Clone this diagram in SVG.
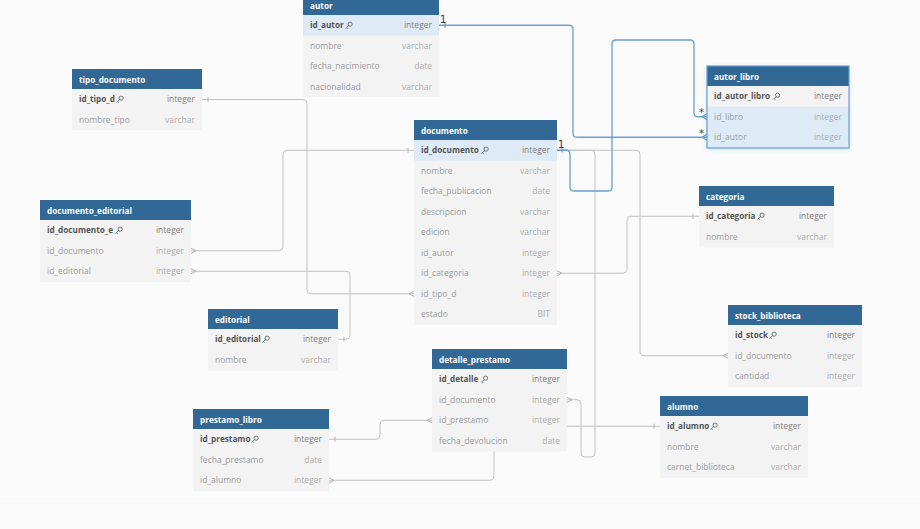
<svg xmlns="http://www.w3.org/2000/svg" xmlns:xlink="http://www.w3.org/1999/xlink" width="920" height="529" viewBox="0 0 920 529">
<style>
.hd{fill:#316896}
.bd{fill:#f3f3f3}
.hl{fill:#deebf6}
.ht{font-family:"Open Sans","Noto Sans",sans-serif;font-size:8.2px;font-weight:bold;fill:#ffffff}
.pk{font-family:"Open Sans","Noto Sans",sans-serif;font-size:8.2px;font-weight:bold;fill:#555555}
.pkt{font-family:"Open Sans","Noto Sans",sans-serif;font-size:8.5px;fill:#808080;text-anchor:end}
.f{font-family:"Open Sans","Noto Sans",sans-serif;font-size:8.5px;fill:#9c9c9c}
.ft{font-family:"Open Sans","Noto Sans",sans-serif;font-size:8.5px;fill:#aeaeae;text-anchor:end}
.cg{fill:none;stroke:#c2c2c2;stroke-width:1}
.cb{fill:none;stroke:#6a9fd0;stroke-width:1.3}
.mk{fill:none;stroke:#b5b5b5;stroke-width:1}
.mb{fill:none;stroke:#6a9fd0;stroke-width:1.2}
.lb{font-family:"DejaVu Sans",sans-serif;font-size:10px;fill:#333333}
</style>
<defs>
<symbol id="key" viewBox="0 0 8 8">
<circle cx="5.1" cy="2.9" r="2.1" fill="none" stroke="#666" stroke-width="0.9"/>
<path d="M3.6,4.4 L0.7,7.3 M1.5,6.5 L2.6,7.6" fill="none" stroke="#666" stroke-width="0.9"/>
</symbol>
<filter id="sh" x="-10%" y="-10%" width="120%" height="125%">
<feDropShadow dx="0" dy="1" stdDeviation="2" flood-color="#5b8fc4" flood-opacity="0.35"/>
</filter>
</defs>
<rect x="0" y="0" width="920" height="529" fill="#fbfbfb"/>
<line x1="0" y1="503" x2="920" y2="503" stroke="#f2f2f2" stroke-width="1"/>

<g id="connectors">
<path class="cg" d="M202,99.5 H303 Q307,99.5 307,103.5 V289.75 Q307,293.75 311,293.75 H414"/>
<path class="cg" d="M191,250.75 H279 Q283,250.75 283,246.75 V154.25 Q283,150.25 287,150.25 H414"/>
<path class="cg" d="M191,271.25 H346 Q350,271.25 350,275.25 V335.25 Q350,339.25 346,339.25 H338"/>
<path class="cg" d="M557,273.25 H623 Q627,273.25 627,269.25 V220.25 Q627,216.25 631,216.25 H699"/>
<path class="cg" d="M557,150.25 H636 Q640,150.25 640,154.25 V351.75 Q640,355.75 644,355.75 H728"/>
<path class="cg" d="M557,150.25 H591 Q595,150.25 595,154.25 V453 Q595,457 591,457 H585 Q581,457 581,453 V403.75 Q581,399.75 577,399.75 H567"/>
<path class="cg" d="M329,439.25 H376 Q380,439.25 380,435.25 V424.25 Q380,420.25 384,420.25 H432"/>
<path class="cg" d="M329,480.25 H490 Q494,480.25 494,476.25 V430.25 Q494,426.25 498,426.25 H660"/>
<path class="cb" d="M439,25.25 H569 Q573,25.25 573,29.25 V133.25 Q573,137.25 577,137.25 H707"/>
<path class="cb" d="M557,150.25 H566 Q570,150.25 570,154.25 V187 Q570,191 574,191 H608 Q612,191 612,187 V44 Q612,40 616,40 H690 Q694,40 694,44 V112.75 Q694,116.75 698,116.75 H707"/>
<path class="mk" d="M208,97 V102 M408,147.75 V152.75 M344,336.75 V341.75 M693,213.75 V218.75 M335,436.75 V441.75 M654,423.75 V428.75"/>
<path class="mk" d="M414,291.25 L409,293.75 L414,296.25 M191,248.25 L196,250.75 L191,253.25 M191,268.75 L196,271.25 L191,273.75 M557,270.75 L562,273.25 L557,275.75 M728,353.25 L723,355.75 L728,358.25 M567,397.25 L572,399.75 L567,402.25 M432,417.75 L427,420.25 L432,422.75 M329,477.75 L334,480.25 L329,482.75"/>
<path class="mb" d="M445,22.75 V27.75 M562,147.75 V152.75 M707,113.75 L702,116.75 L707,119.75 M707,134.25 L702,137.25 L707,140.25"/>
<text class="lb" x="440" y="23">1</text>
<text class="lb" x="558" y="148">1</text>
<text class="lb" x="699" y="116">*</text>
<text class="lb" x="699" y="137">*</text>
</g>

<g id="autor" transform="translate(303,-5)">
<rect class="hd" x="0" y="0" width="136" height="20"/>
<rect class="bd" x="0" y="20" width="136" height="82"/>
<rect class="hl" x="0" y="20" width="136" height="20.5"/>
<text class="ht" x="7" y="14">autor</text>
<text class="pk" x="7" y="33.25">id_autor</text><use xlink:href="#key" x="42" y="26.25" width="8" height="8"/><text class="pkt" x="129" y="33.25">integer</text>
<text class="f" x="7" y="53.75">nombre</text><text class="ft" x="129" y="53.75">varchar</text>
<text class="f" x="7" y="74.25">fecha_nacimiento</text><text class="ft" x="129" y="74.25">date</text>
<text class="f" x="7" y="94.75">nacionalidad</text><text class="ft" x="129" y="94.75">varchar</text>
</g>

<g id="tipo_documento" transform="translate(72,69)">
<rect class="hd" x="0" y="0" width="130" height="20"/>
<rect class="bd" x="0" y="20" width="130" height="41"/>
<text class="ht" x="7" y="14">tipo_documento</text>
<text class="pk" x="7" y="33.25">id_tipo_d</text><use xlink:href="#key" x="44" y="26.25" width="8" height="8"/><text class="pkt" x="123" y="33.25">integer</text>
<text class="f" x="7" y="53.75">nombre_tipo</text><text class="ft" x="123" y="53.75">varchar</text>
</g>

<g id="documento" transform="translate(414,120)">
<rect class="hd" x="0" y="0" width="143" height="20"/>
<rect class="bd" x="0" y="20" width="143" height="185"/>
<rect class="hl" x="0" y="20" width="143" height="20.5"/>
<text class="ht" x="7" y="14">documento</text>
<text class="pk" x="7" y="33.25">id_documento</text><use xlink:href="#key" x="67" y="26.25" width="8" height="8"/><text class="pkt" x="136" y="33.25">integer</text>
<text class="f" x="7" y="53.75">nombre</text><text class="ft" x="136" y="53.75">varchar</text>
<text class="f" x="7" y="74.25">fecha_publicacion</text><text class="ft" x="136" y="74.25">date</text>
<text class="f" x="7" y="94.75">descripcion</text><text class="ft" x="136" y="94.75">varchar</text>
<text class="f" x="7" y="115.25">edicion</text><text class="ft" x="136" y="115.25">varchar</text>
<text class="f" x="7" y="135.75">id_autor</text><text class="ft" x="136" y="135.75">integer</text>
<text class="f" x="7" y="156.25">id_categoria</text><text class="ft" x="136" y="156.25">integer</text>
<text class="f" x="7" y="176.75">id_tipo_d</text><text class="ft" x="136" y="176.75">integer</text>
<text class="f" x="7" y="197.25">estado</text><text class="ft" x="136" y="197.25">BIT</text>
</g>

<g id="autor_libro" transform="translate(707,66)">
<rect x="0" y="0" width="142" height="82" fill="#f3f3f3" filter="url(#sh)"/>
<rect class="hd" x="0" y="0" width="142" height="20"/>
<rect class="hl" x="0" y="40.5" width="142" height="41.5"/>
<rect x="0" y="0" width="142" height="82" fill="none" stroke="#6a9fd0" stroke-width="1.2"/>
<text class="ht" x="7" y="14">autor_libro</text>
<text class="pk" x="7" y="33.25">id_autor_libro</text><use xlink:href="#key" x="65.5" y="26.25" width="8" height="8"/><text class="pkt" x="135" y="33.25">integer</text>
<text class="f" x="7" y="53.75">id_libro</text><text class="ft" x="135" y="53.75">integer</text>
<text class="f" x="7" y="74.25">id_autor</text><text class="ft" x="135" y="74.25">integer</text>
</g>

<g id="documento_editorial" transform="translate(40,200)">
<rect class="hd" x="0" y="0" width="151" height="20"/>
<rect class="bd" x="0" y="20" width="151" height="62"/>
<text class="ht" x="7" y="14">documento_editorial</text>
<text class="pk" x="7" y="33.25">id_documento_e</text><use xlink:href="#key" x="75" y="26.25" width="8" height="8"/><text class="pkt" x="144" y="33.25">integer</text>
<text class="f" x="7" y="53.75">id_documento</text><text class="ft" x="144" y="53.75">integer</text>
<text class="f" x="7" y="74.25">id_editorial</text><text class="ft" x="144" y="74.25">integer</text>
</g>

<g id="categoria" transform="translate(699,186)">
<rect class="hd" x="0" y="0" width="135" height="20"/>
<rect class="bd" x="0" y="20" width="135" height="41.5"/>
<text class="ht" x="7" y="14">categoria</text>
<text class="pk" x="7" y="33.25">id_categoria</text><use xlink:href="#key" x="58" y="26.25" width="8" height="8"/><text class="pkt" x="128" y="33.25">integer</text>
<text class="f" x="7" y="53.75">nombre</text><text class="ft" x="128" y="53.75">varchar</text>
</g>

<g id="stock_biblioteca" transform="translate(728,305)">
<rect class="hd" x="0" y="0" width="134" height="20"/>
<rect class="bd" x="0" y="20" width="134" height="62"/>
<text class="ht" x="7" y="14">stock_biblioteca</text>
<text class="pk" x="7" y="33.25">id_stock</text><use xlink:href="#key" x="41" y="26.25" width="8" height="8"/><text class="pkt" x="127" y="33.25">integer</text>
<text class="f" x="7" y="53.75">id_documento</text><text class="ft" x="127" y="53.75">integer</text>
<text class="f" x="7" y="74.25">cantidad</text><text class="ft" x="127" y="74.25">integer</text>
</g>

<g id="editorial" transform="translate(208,309)">
<rect class="hd" x="0" y="0" width="130" height="20"/>
<rect class="bd" x="0" y="20" width="130" height="41.5"/>
<text class="ht" x="7" y="14">editorial</text>
<text class="pk" x="7" y="33.25">id_editorial</text><use xlink:href="#key" x="54" y="26.25" width="8" height="8"/><text class="pkt" x="123" y="33.25">integer</text>
<text class="f" x="7" y="53.75">nombre</text><text class="ft" x="123" y="53.75">varchar</text>
</g>

<g id="prestamo_libro" transform="translate(193,409)">
<rect class="hd" x="0" y="0" width="136" height="20"/>
<rect class="bd" x="0" y="20" width="136" height="62"/>
<text class="ht" x="7" y="14">prestamo_libro</text>
<text class="pk" x="7" y="33.25">id_prestamo</text><use xlink:href="#key" x="58" y="26.25" width="8" height="8"/><text class="pkt" x="129" y="33.25">integer</text>
<text class="f" x="7" y="53.75">fecha_prestamo</text><text class="ft" x="129" y="53.75">date</text>
<text class="f" x="7" y="74.25">id_alumno</text><text class="ft" x="129" y="74.25">integer</text>
</g>

<g id="detalle_prestamo" transform="translate(432,349)">
<rect class="hd" x="0" y="0" width="135" height="20"/>
<rect class="bd" x="0" y="20" width="135" height="82.5"/>
<text class="ht" x="7" y="14">detalle_prestamo</text>
<text class="pk" x="7" y="33.25">id_detalle</text><use xlink:href="#key" x="48.5" y="26.25" width="8" height="8"/><text class="pkt" x="128" y="33.25">integer</text>
<text class="f" x="7" y="53.75">id_documento</text><text class="ft" x="128" y="53.75">integer</text>
<text class="f" x="7" y="74.25">id_prestamo</text><text class="ft" x="128" y="74.25">integer</text>
<text class="f" x="7" y="94.75">fecha_devolucion</text><text class="ft" x="128" y="94.75">date</text>
</g>

<g id="alumno" transform="translate(660,396)">
<rect class="hd" x="0" y="0" width="148" height="20"/>
<rect class="bd" x="0" y="20" width="148" height="62"/>
<text class="ht" x="7" y="14">alumno</text>
<text class="pk" x="7" y="33.25">id_alumno</text><use xlink:href="#key" x="50" y="26.25" width="8" height="8"/><text class="pkt" x="141" y="33.25">integer</text>
<text class="f" x="7" y="53.75">nombre</text><text class="ft" x="141" y="53.75">varchar</text>
<text class="f" x="7" y="74.25">carnet_biblioteca</text><text class="ft" x="141" y="74.25">varchar</text>
</g>
</svg>
